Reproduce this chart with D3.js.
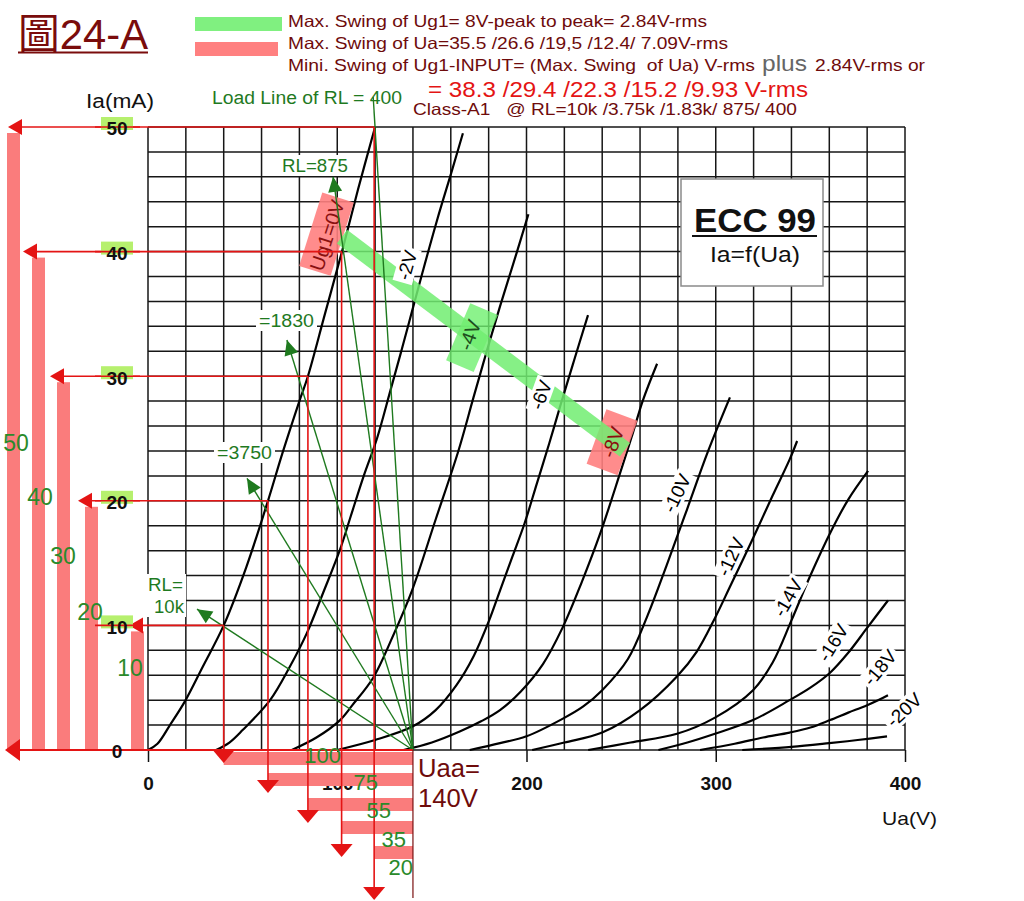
<!DOCTYPE html>
<html><head><meta charset="utf-8">
<script src="https://cdn.jsdelivr.net/npm/d3@7"></script>
<style>body{margin:0;background:#fff}svg{display:block}</style>
</head><body>
<svg id="c" width="1024" height="901"></svg>
<script>
// ---------------- data ----------------
const uaTicks=[0,100,200,300,400];
const iaTicks=[0,10,20,30,40,50];
const ug0=[[0,0],[5,0.5],[11.6,2],[19.5,3.9],[29,6.7],[40,10],[52,14.7],[63.4,20],[71,23.8],[80,28],[84.5,30],[93.5,35],[102.5,40],[111,45],[120,50]];
const ug2=[[36,0],[43,0.6],[50,1.6],[64.5,4],[75,6.7],[84,9.4],[92.5,12.6],[101.5,16.1],[107,18.7],[114,22],[121,25],[128,28.8],[134,32.1],[139.5,35.2],[145,38.3],[152.7,42.5],[160.6,46.5],[166.4,49.5]];
const ug4=[[76,0],[89,1],[101.5,2.4],[108,3.6],[119,5.8],[129,9],[139.5,12.8],[152,18.5],[164,24],[172,28.3],[179,32],[186,35.6],[195,40],[201,43]];
const ug6=[[100,0],[120,0.8],[140,1.9],[152,3.2],[163,5.2],[172,7.5],[180,10.3],[186,12.8],[192.5,15.5],[199,18.2],[205.5,21.4],[212,24.6],[218,27.7],[225,31.2],[232.5,34.9]];
const ug8=[[135,0],[150,0.6],[165,1.5],[176,2.3],[186,3.2],[197,4.7],[208.7,6.9],[219,9.8],[229,13.4],[239,17.4],[249.4,22.2],[255.5,25.1],[261.6,28.1],[269,31]];
const ug10=[[170,0],[186,0.55],[200,1.1],[219,2.5],[230,3.5],[240,4.8],[253.6,7.3],[264,10.8],[274,14.8],[284.8,19.3],[296,24],[307.5,28.3]];
const ug12=[[203,0],[220,0.6],[240,1.4],[260,3.2],[279.5,5.9],[290,7.9],[299.6,10.6],[307.5,13.1],[319.7,17],[330,20.4],[339,23.3],[343,24.8]];
const ug14=[[232.6,0],[255,0.6],[279.5,1.3],[299.6,2.6],[319.7,4.8],[330,7],[340,10.4],[350,14],[360.4,17.4],[370,20.1],[380.5,22.4]];
const ug16=[[269.7,0],[285,0.6],[299.6,1.3],[319.7,2.4],[339,4],[350,5],[360.4,6.2],[370,7.8],[380,9.8],[391,12]];
const ug18=[[291.7,0],[310,0.5],[325,1],[339,1.4],[350,1.8],[360.4,2.4],[370,3],[380,3.6],[391,4.4]];
const ug20=[[314,0],[340,0.25],[360,0.55],[375,0.8],[390.5,1.1]];
const curveSet=[ug0,ug2,ug4,ug6,ug8,ug10,ug12,ug14,ug16,ug18,ug20];
const curveLabels=['Ug1=0V','-2V','-4V','-6V','-8V','-10V','-12V','-14V','-16V','-18V','-20V'];
const curveLabelUa=[94.6,136.9,170,207.7,245.5,279.5,308,338.2,362,386.8,399.5];
const curveLabelIa=[41.3,38.9,33.3,28.5,24.7,20.6,15.5,12.2,8.6,6.6,3.2];
const curveLabelAngle=[-72,-74,-70,-70,-70,-64,-65,-60,-58,-50,-43];

const Uaa=140;
const opIa=[10,20,30,40,50];
const opUa=[40,63.4,84.5,102.3,119.5];
const iaSwingLabels=['10','20','30','40','50'];
const uaSwingLabels=['100','75','55','35','20'];

const loadNames=['10k','3750','1830','875','400'];
const loadEndUa=[25.9,52.3,73.4,97.8,119];
const loadEndIa=[11.3,21.8,32.9,46,52.4];

const ug1SwingUa=[102.5,252];
const ug1SwingIa=[41.2,24.1];

// ---------------- layout ----------------
const F="'Liberation Sans', Arial, 'Noto Sans CJK TC', sans-serif";
const DR='#6e0b0b', RED='#e41414', PINK='#fa7c7c', LG='#72ee72', GT='#1f7a1f';
const svg=d3.select('#c');
const x=d3.scaleLinear().domain([0,400]).range([148,905]);
const y=d3.scaleLinear().domain([0,50]).range([750,127]);

function T(p,s,px,py,o={}){
  const t=p.append('text').attr('x',px).attr('y',py).text(s)
    .attr('font-family',o.ff||F).attr('font-size',o.fs||16).attr('fill',o.fill||'#000');
  if(o.anchor)t.attr('text-anchor',o.anchor);
  if(o.fw)t.attr('font-weight',o.fw);
  if(o.len)t.attr('textLength',o.len).attr('lengthAdjust','spacingAndGlyphs');
  t.style('white-space','pre');
  return t;
}
function tri(p,tip,ang,len,half,fill){
  const [tx,ty]=tip, c=Math.cos(ang), s=Math.sin(ang);
  const bx=tx-c*len, by=ty-s*len;
  p.append('path').attr('d',`M${tx},${ty}L${bx-s*half},${by+c*half}L${bx+s*half},${by-c*half}Z`).attr('fill',fill);
}

// ---------------- header ----------------
const hd=svg.append('g');
T(hd,'圖24-A',18,49,{fs:42,fill:'#7a0c0c',len:130});
hd.append('line').attr('x1',18).attr('x2',148).attr('y1',52.5).attr('y2',52.5).attr('stroke','#7a0c0c').attr('stroke-width',2.2);
hd.append('rect').attr('x',195).attr('y',17).attr('width',87).attr('height',14).attr('fill','#80f080');
hd.append('rect').attr('x',195).attr('y',42).attr('width',83).attr('height',14).attr('fill','#ff8080');
T(hd,'Max. Swing of Ug1= 8V-peak to peak= 2.84V-rms',288,27,{fs:16.5,fill:DR,len:419});
T(hd,'Max. Swing of Ua=35.5 /26.6 /19,5 /12.4/ 7.09V-rms',288,49,{fs:16.5,fill:DR,len:440});
T(hd,'Mini. Swing of Ug1-INPUT= (Max. Swing  of Ua) V-rms',288,71,{fs:16.5,fill:DR,len:467});
T(hd,'plus',762,71,{fs:22,fill:'#666',len:45});
T(hd,'2.84V-rms or',815,71,{fs:16.5,fill:DR,len:110});
T(hd,'= 38.3 /29.4 /22.3 /15.2 /9.93 V-rms',428,97,{fs:22,fill:RED,len:380});
T(hd,'Class-A1   @ RL=10k /3.75k /1.83k/ 875/ 400',413,115,{fs:16.5,fill:DR,len:384});

// ---------------- left pink bars (current swing) ----------------
const leftBarX=[131,85,57,32,7], leftTip=[129,78,50,23,8];
const lb=svg.append('g');
opIa.forEach((ia,i)=>{
  lb.append('rect').attr('x',leftBarX[i]).attr('y',y(ia)+6).attr('width',13).attr('height',y(0)-y(ia)-6).attr('fill',PINK);
});

// ---------------- grid ----------------
const gr=svg.append('g').attr('stroke','#161616').attr('stroke-width',1.5);
gr.selectAll('line.v').data(d3.range(0,401,20)).join('line')
  .attr('x1',d=>x(d)).attr('x2',d=>x(d)).attr('y1',y(50)).attr('y2',y(0));
gr.selectAll('line.h').data(d3.range(0,51,2)).join('line')
  .attr('y1',d=>y(d)).attr('y2',d=>y(d)).attr('x1',x(0)).attr('x2',x(400));

// axes
const xAx=svg.append('g').attr('transform',`translate(0,${y(0)})`)
  .call(d3.axisBottom(x).tickValues(uaTicks).tickSize(12).tickPadding(15));
xAx.select('.domain').remove();
xAx.selectAll('line').attr('stroke','#111').attr('stroke-width',1.5);
xAx.selectAll('text').attr('font-family',F).attr('font-size',19).attr('font-weight','bold').attr('fill','#111');

// ---------------- bottom pink bars (voltage swing) ----------------
const botBarY=[752,773,798,821,846];
const bb=svg.append('g');
opUa.forEach((ua,i)=>{
  bb.append('rect').attr('x',x(ua)).attr('y',botBarY[i]).attr('width',x(Uaa)-x(ua)).attr('height',13).attr('fill',PINK);
});

// ---------------- curves ----------------
const line=d3.line().x(d=>x(d[0])).y(d=>y(d[1])).curve(d3.curveCatmullRom.alpha(0.5));
svg.append('g').selectAll('path').data(curveSet).join('path')
  .attr('d',line).attr('fill','none').attr('stroke','#000').attr('stroke-width',2.2);

// ---------------- highlight boxes ----------------
const boxes=[{ua:94.3,ia:41.4,w:77,h:33,a:-72.5,fill:'#ff7f7f',op:0.9},
             {ua:171.2,ia:33.1,w:62,h:30,a:-67,fill:'#6ff06f',op:0.8},
             {ua:245.2,ia:24.7,w:58,h:33,a:-70,fill:'#ff7f7f',op:0.9}];
const bx=svg.append('g');
boxes.forEach(b=>{
  bx.append('rect').attr('x',-b.w/2).attr('y',-b.h/2).attr('width',b.w).attr('height',b.h)
    .attr('fill',b.fill).attr('opacity',b.op)
    .attr('transform',`translate(${x(b.ua)},${y(b.ia)}) rotate(${b.a})`);
});
// green swing band
svg.append('line').attr('x1',x(ug1SwingUa[0])).attr('y1',y(ug1SwingIa[0]))
  .attr('x2',x(ug1SwingUa[1])).attr('y2',y(ug1SwingIa[1]))
  .attr('stroke',LG).attr('stroke-width',17).attr('opacity',0.85);

// ---------------- curve labels ----------------
const cl=svg.append('g');
curveLabels.forEach((s,i)=>{
  const g=cl.append('g').attr('transform',`translate(${x(curveLabelUa[i])},${y(curveLabelIa[i])}) rotate(${curveLabelAngle[i]})`);
  const inBox=(i===0||i===2||i===4);
  const r=g.append('rect').attr('fill','#fff');
  const t=T(g,s,0,0,{fs:inBox?20:19,anchor:'middle',fill:i===0||i===4?'#8a1010':(i===2?'#1e4e1e':'#000')}).attr('dominant-baseline','central');
  const w=t.node().getComputedTextLength();
  if(!inBox) r.attr('x',-w/2-3).attr('y',-10).attr('width',w+6).attr('height',20);
  else r.remove();
});

// ---------------- load lines ----------------
const ll=svg.append('g');
loadNames.forEach((n,i)=>{
  const x1=x(Uaa),y1=y(0),x2=x(loadEndUa[i]),y2=y(loadEndIa[i]);
  ll.append('line').attr('x1',x1).attr('y1',y1).attr('x2',x2).attr('y2',y2).attr('stroke',GT).attr('stroke-width',1.4);
  if(i<4) tri(ll,[x2,y2],Math.atan2(y2-y1,x2-x1),15,7,GT);
});

// ---------------- red operating-point lines ----------------
const rl=svg.append('g');
const botTip=[763,793,823,857,900];
opIa.forEach((ia,i)=>{
  const px=x(opUa[i]),py=y(ia);
  rl.append('line').attr('x1',px).attr('y1',py).attr('x2',leftTip[i]+10).attr('y2',py).attr('stroke',RED).attr('stroke-width',1.6);
  tri(rl,[leftTip[i],py],Math.PI,14,8,RED);
  rl.append('line').attr('x1',px).attr('y1',py).attr('x2',px).attr('y2',botTip[i]-8).attr('stroke',RED).attr('stroke-width',1.6);
  tri(rl,[px,botTip[i]],Math.PI/2,13,11,RED);
});
rl.append('line').attr('x1',x(Uaa)).attr('y1',y(0)).attr('x2',14).attr('y2',y(0)).attr('stroke',RED).attr('stroke-width',1.8);
tri(rl,[5,y(0)],Math.PI,15,11,RED);
rl.append('line').attr('x1',x(Uaa)).attr('y1',y(0)).attr('x2',x(Uaa)).attr('y2',898).attr('stroke','#7a1010').attr('stroke-width',1.2);

// ---------------- y axis labels ----------------
const yh=svg.append('g');
iaTicks.filter(d=>d>0).forEach(d=>{
  yh.append('rect').attr('x',101).attr('y',y(d)-10).attr('width',32).attr('height',13).attr('fill','#b6f06e');
});
opIa.forEach((ia,i)=>{
  yh.append('line').attr('x1',140).attr('x2',95).attr('y1',y(ia)).attr('y2',y(ia)).attr('stroke',RED).attr('stroke-width',1.6);
});
const yAx=svg.append('g').attr('transform',`translate(${x(0)},0)`)
  .call(d3.axisLeft(y).tickValues(iaTicks).tickSize(0).tickPadding(31));
yAx.select('.domain').remove();
yAx.selectAll('text').attr('text-anchor','middle').attr('dy','0.42em')
  .attr('font-family',F).attr('font-size',19).attr('font-weight','bold').attr('fill','#111');

// ---------------- load line labels ----------------
const lt=svg.append('g');
function lab(s,px,py,len,bg){
  if(bg) lt.append('rect').attr('x',px-3).attr('y',py-17).attr('width',len+6).attr('height',21).attr('fill','#fff');
  T(lt,s,px,py,{fs:18,fill:GT,len:len});
}
lab('RL='+loadNames[3],282,172,66,true);
lab('='+loadNames[2],259,327,55,true);
lab('='+loadNames[1],217,459,55,true);
lt.append('rect').attr('x',146).attr('y',574).attr('width',40).attr('height',43).attr('fill','#fff');
T(lt,'RL=',148,591,{fs:18,fill:GT,len:35});
T(lt,loadNames[0],154,613,{fs:18,fill:GT,len:30});
T(lt,'Load Line of RL = '+loadNames[4],212,104,{fs:18,fill:GT,len:190});

// ---------------- swing labels ----------------
const sl=svg.append('g');
const leftLab=[[130,676],[90,620],[63,564],[40,505],[16,451]];
iaSwingLabels.forEach((s,i)=>T(sl,s,leftLab[i][0],leftLab[i][1],{fs:23,fill:'#2a8a2a',anchor:'middle'}));
const botLab=[[341,763],[378,790],[391,818],[406,847],[413,875]];
uaSwingLabels.forEach((s,i)=>T(sl,s,botLab[i][0],botLab[i][1],{fs:22,fill:'#2a8a2a',anchor:'end'}));

// ---------------- misc text ----------------
T(svg,'Ia(mA)',86,108,{fs:20,fill:'#111',len:68});
T(svg,'Ua(V)',882,825,{fs:19,fill:'#111',len:55});
T(svg,'Uaa=',418,777,{fs:25,fill:DR,len:62});
T(svg,'140V',418,807,{fs:25,fill:DR,len:60});

// ECC 99 box
const eb=svg.append('g');
eb.append('rect').attr('x',681).attr('y',179).attr('width',142).attr('height',107).attr('fill','#fff').attr('stroke','#8a8a8a').attr('stroke-width',1.5);
T(eb,'ECC 99',694,232,{fs:34,fw:'bold',fill:'#111',len:122});
eb.append('line').attr('x1',692).attr('x2',817).attr('y1',236).attr('y2',236).attr('stroke','#111').attr('stroke-width',2);
T(eb,'Ia=f(Ua)',710,262,{fs:22,fill:'#111',len:90});
</script>
</body></html>
